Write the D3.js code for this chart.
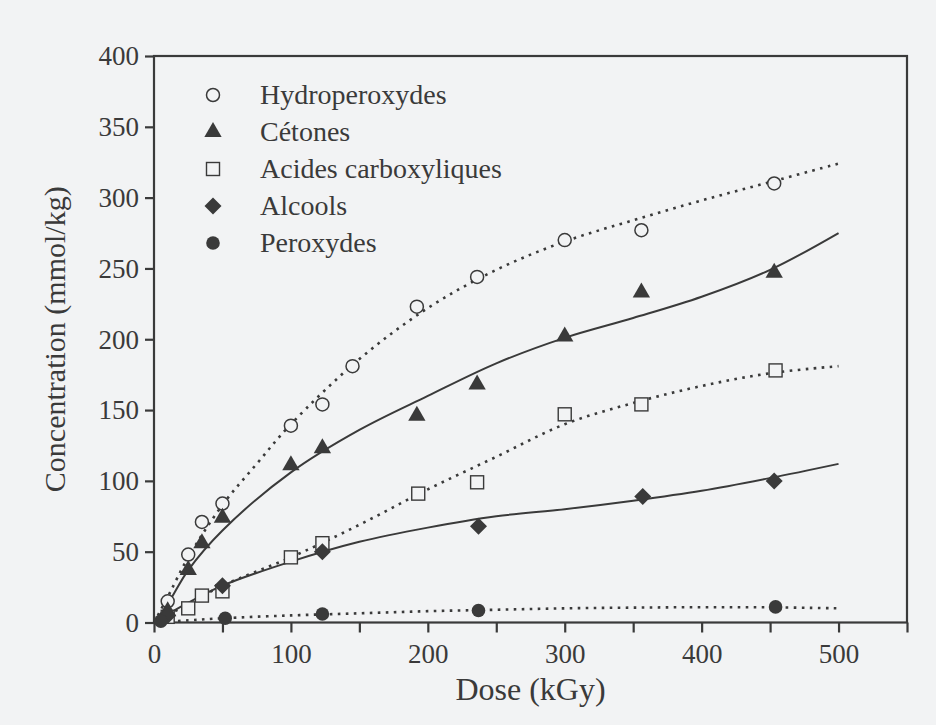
<!DOCTYPE html>
<html>
<head>
<meta charset="utf-8">
<script src="https://cdn.jsdelivr.net/npm/d3@7"></script>
<style>
  html, body { margin: 0; padding: 0; background: #f2f3f4; }
  svg { display: block; }
  text { font-family: "Liberation Serif", "Times New Roman", serif; fill: #3a3a3a; }
</style>
</head>
<body>
<script>
// ---- data ----
const seriesNames = ["Hydroperoxydes", "Cétones", "Acides carboxyliques", "Alcools", "Peroxydes"];

const hydroperoxydesPts = [[10,15],[25,48],[35,71],[50,84],[100,139],[123,154],[145,181],[192,223],[236,244],[300,270],[356,277],[453,310]];
const cetonesPts = [[10,8],[25,37],[35,56],[50,74],[100,111],[123,123],[192,146],[236,168],[300,202],[356,233],[453,247]];
const acidesPts = [[10,4],[25,10],[35,19],[50,22],[100,46],[123,56],[193,91],[236,99],[300,147],[356,154],[454,178]];
const alcoolsPts = [[10,5],[50,26],[123,50],[237,68],[357,89],[453,100]];
const peroxydesPts = [[5,1],[52,3],[123,6],[237,8.5],[454,11]];

// fitted curves
const hydroperoxydesFit = [[0,0],[10,18],[25,46],[50,83],[75,112],[100,140],[150,186],[200,222],[250,249],[300,269],[350,284],[400,298],[450,311],[500,324]];
const cetonesFit = [[0,0],[10,13],[25,37],[50,65],[100,106],[150,136],[200,160],[250,183],[300,201],[350,215],[400,230],[450,249],[500,275]];
const acidesFit = [[0,0],[25,13],[50,26],[100,46],[150,69],[200,94],[250,117],[300,140],[350,155],[400,167],[450,176],[500,181]];
const alcoolsFit = [[0,0],[25,14],[50,26],[100,43],[150,57],[200,67],[250,75],[300,80],[350,86],[400,93],[450,102],[500,112]];
const peroxydesFit = [[0,0],[25,1.5],[50,3],[100,5],[150,6.5],[200,8],[250,9],[300,10],[350,10.5],[400,10.8],[450,10.7],[500,10]];

const xTicks = [0,50,100,150,200,250,300,350,400,450,500,550];
const xTickLabels = [0,100,200,300,400,500];
const yTicks = [0,50,100,150,200,250,300,350,400];

const xTitle = "Dose (kGy)";
const yTitle = "Concentration (mmol/kg)";

// ---- drawing ----
const W = 936, H = 725;
const ink = "#3a3a3a";
const mLeft = 154, mRight = 907, mTop = 56, mBottom = 622.5;

const svg = d3.select("body").append("svg").attr("width", W).attr("height", H);
svg.append("rect").attr("width", W).attr("height", H).attr("fill", "#f2f3f4");

const x = d3.scaleLinear().domain([0, 550]).range([mLeft, mRight]);
const y = d3.scaleLinear().domain([0, 400]).range([mBottom, mTop]);

// frame
svg.append("rect").attr("x", mLeft).attr("y", mTop).attr("width", mRight-mLeft).attr("height", mBottom-mTop)
  .attr("fill", "none").attr("stroke", ink).attr("stroke-width", 2.2);

// x axis
const xAxis = d3.axisBottom(x).tickValues(xTicks).tickSize(10)
  .tickFormat(d => xTickLabels.includes(d) ? d : "");
const gx = svg.append("g").attr("transform", `translate(0,${mBottom})`).call(xAxis);
gx.select(".domain").remove();
gx.selectAll("line").attr("stroke", ink).attr("stroke-width", 2.2);
gx.selectAll("text").attr("font-size", 27).attr("dy", "0.95em").attr("fill", ink)
  .attr("font-family", "Liberation Serif").attr("transform", "translate(0,2)");

// y axis
const yAxis = d3.axisLeft(y).tickValues(yTicks).tickSize(9);
const gy = svg.append("g").attr("transform", `translate(${mLeft},0)`).call(yAxis);
gy.select(".domain").remove();
gy.selectAll("line").attr("stroke", ink).attr("stroke-width", 2.2);
gy.selectAll("text").attr("font-size", 27).attr("fill", ink).attr("x", -15).attr("dy", "0.33em")
  .attr("font-family", "Liberation Serif");

// axis titles
svg.append("text").attr("x", (mLeft+mRight)/2).attr("y", 700).attr("text-anchor", "middle")
  .attr("font-size", 32).text(xTitle);
svg.append("text").attr("transform", `translate(65,${(mTop+mBottom)/2}) rotate(-90)`).attr("text-anchor", "middle")
  .attr("font-size", 30).text(yTitle);

// curves
const line = d3.line().x(d => x(d[0])).y(d => y(d[1])).curve(d3.curveCatmullRom.alpha(0.5));
const fits = [
  {data: hydroperoxydesFit, dotted: true},
  {data: cetonesFit, dotted: false},
  {data: acidesFit, dotted: true},
  {data: alcoolsFit, dotted: false},
  {data: peroxydesFit, dotted: true}
];
fits.forEach(f => {
  svg.append("path").attr("d", line(f.data)).attr("fill", "none").attr("stroke", ink)
    .attr("stroke-width", f.dotted ? 2.6 : 2)
    .attr("stroke-dasharray", f.dotted ? "2.6,5.4" : null);
});

// markers
function marker(g, kind, cx, cy) {
  if (kind === "circleOpen") {
    g.append("circle").attr("cx", cx).attr("cy", cy).attr("r", 6.5).attr("fill", "#f2f3f4").attr("stroke", ink).attr("stroke-width", 1.5);
  } else if (kind === "triangle") {
    g.append("path").attr("d", d3.symbol(d3.symbolTriangle, 130)()).attr("transform", `translate(${cx},${cy})`).attr("fill", ink);
  } else if (kind === "square") {
    g.append("rect").attr("x", cx-6.5).attr("y", cy-6.5).attr("width", 13).attr("height", 13).attr("fill", "#f2f3f4").attr("stroke", ink).attr("stroke-width", 1.4);
  } else if (kind === "diamond") {
    g.append("path").attr("d", "M0,-8.5L8.5,0L0,8.5L-8.5,0Z").attr("transform", `translate(${cx},${cy})`).attr("fill", ink);
  } else if (kind === "circleFilled") {
    g.append("circle").attr("cx", cx).attr("cy", cy).attr("r", 6.8).attr("fill", ink);
  }
}
const kinds = ["circleOpen", "triangle", "square", "diamond", "circleFilled"];
const allPts = [hydroperoxydesPts, cetonesPts, acidesPts, alcoolsPts, peroxydesPts];
const gm = svg.append("g");
[2, 0, 1, 3, 4].forEach(i => {
  allPts[i].forEach(p => marker(gm, kinds[i], x(p[0]), y(p[1])));
});

// legend
const legY0 = 95, legDy = 37;
seriesNames.forEach((name, i) => {
  marker(svg, kinds[i], 213, legY0 + i*legDy);
  svg.append("text").attr("x", 260).attr("y", legY0 + i*legDy + 9).attr("font-size", 28).text(name);
});
</script>
</body>
</html>
